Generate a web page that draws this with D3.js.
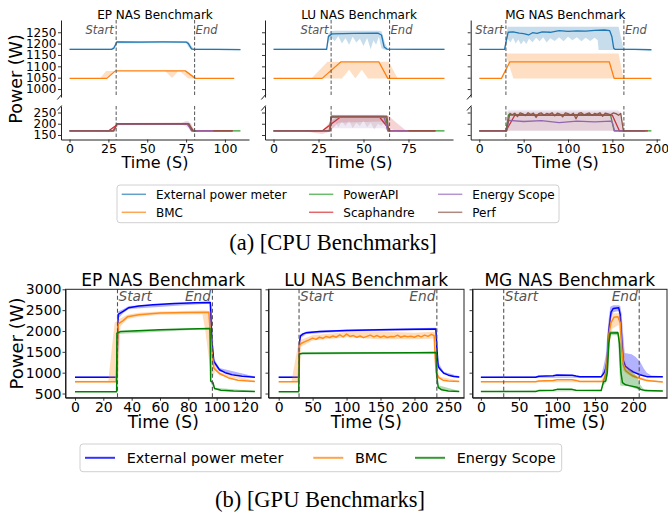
<!DOCTYPE html>
<html><head><meta charset="utf-8">
<script src="https://cdn.jsdelivr.net/npm/d3@7"></script>
<style>body{margin:0;background:#fff}svg{display:block}</style>
</head><body><script>
// ================= DATA : CPU =================
const cpuTitles = ["EP NAS Benchmark","LU NAS Benchmark","MG NAS Benchmark"];
const cpuXTicks = [[0,25,50,75,100],[0,25,50,75],[0,50,100,150,200]];
const cpuXMax = [110, 95, 194];
const cpuMarks = [[30,80.5],[32,64.5],[30,163]];
const cpuUpperTicks = [1000,1050,1100,1150,1200,1250];
const cpuLowerTicks = [150,200,250];

// EP (CPU)
const epExt = [[0,1175],[27,1175],[28.5,1180],[30.5,1208],[45,1207],[60,1208],[75,1207],[76.5,1200],[78.5,1177],[80,1175],[95,1175],[110,1174]];
const epExtBand = [[0,1172,1178],[27,1172,1178],[28.5,1174,1190],[30.5,1200,1212],[75,1203,1211],[76.5,1185,1210],[78.5,1172,1190],[80,1172,1178],[110,1171,1177]];
const epBmc = [[0,1047],[24,1047],[29.5,1080],[74.5,1080],[81,1047],[106,1047]];
const epBmcBand = [[19.5,1047,1047],[23.5,1047,1080],[24,1047,1080],[29.5,1080,1080],[61.5,1080,1080],[66,1049,1080],[70,1080,1080],[71,1078,1080],[76.5,1047,1071],[81,1047,1047]];
const epPowerApi = [[0,168],[28,168],[30.5,199],[77,199],[79.5,168],[110,168]];
const epScaph = [[0,168],[25,168],[31.5,200],[75.5,200],[80,168],[105,168]];
const epScaphBand = [[22,167,168],[25,163,170],[29,165,188],[31.5,193,203],[75.5,195,206],[78,172,203],[80,164,175],[83,166,169]];
const epEnergy = [[0,168],[28,168],[30.5,198],[76,199],[78.5,168],[93,168]];
const epEnergyBand = [[72,197,201],[74.5,190,212],[76.5,180,212],[78.5,166,190],[80,166,170]];
const epPerf = [[0,168],[28.5,168],[30.5,200],[76.5,200],[79,168],[81.5,168],[81.6,null],[92.4,null],[92.5,168],[105,168]];

// LU (CPU)
const luExt = [[0,1175],[29.5,1175],[30.5,1232],[32.5,1243],[45,1245],[58,1246],[60,1238],[61.5,1185],[63,1176],[80,1175],[95,1175]];
const luExtBand = [[0,1172,1178],[29.5,1172,1180],[30.5,1205,1245],[32,1228,1255],[34,1210,1257],[36,1232,1257],[38,1200,1257],[40,1225,1257],[42,1195,1257],[44,1230,1257],[46,1205,1257],[48,1222,1257],[50,1190,1257],[52,1225,1257],[54,1175,1257],[55.5,1215,1257],[57,1195,1257],[58.5,1230,1257],[60,1180,1255],[62,1172,1200],[63.5,1172,1178],[95,1172,1178]];
const luBmc = [[0,1047],[27,1047],[37.5,1120],[58.5,1120],[63.5,1047],[95,1047]];
const luBmcBand = [[21,1047,1047],[30,1047,1120],[38,1047,1120],[42,1085,1120],[45.5,1047,1120],[49,1085,1120],[52.5,1047,1120],[64,1047,1120],[69,1047,1047]];
const luPowerApi = [[0,168],[31,168],[32,230],[62.5,230],[63.5,168],[95,168]];
const luScaph = [[0,168],[27,168],[37,229],[59,229],[65,168],[90,168]];
const luScaphBand = [[18.5,167,168],[22,160,168],[27,155,170],[31,165,205],[36,205,234],[60,210,234],[64,180,234],[69,166,200],[74,167,168]];
const luEnergy = [[0,168],[31,168],[32,228],[61.5,228],[63.5,168],[75,168]];
const luEnergyBand = [[31,167,170],[32,180,240],[61.5,180,240],[63.5,167,170]];
const luPerf = [[0,168],[31.5,168],[32,234],[63,234],[64,168],[64.9,168],[65,null],[75,null],[75.1,168],[90,168]];
const luPerfBand = [[31.5,168,168],[32.5,200,236],[34,215,236],[36,185,236],[38,210,236],[40,190,236],[42,215,236],[44,180,236],[46,205,236],[48,190,236],[50,215,236],[52,185,236],[54,205,236],[56,175,236],[58,200,236],[60,190,236],[62,210,236],[63,168,236],[64,168,168]];

// MG (CPU)
const mgExt = [[0,1175],[28.5,1175],[30,1205],[32.5,1250],[38,1252],[45,1246],[50,1244],[55.5,1238],[60,1248],[65,1245],[71,1252],[80,1250],[90,1257],[100,1254],[110,1256],[120,1255],[130,1258],[141,1260],[147,1257],[149.5,1230],[151.5,1180],[153,1175],[175,1175],[194,1173]];
const mgExtBand = [[28.5,1172,1178],[30,1185,1225],[32,1222,1274],[35,1205,1274],[38,1226,1274],[41,1200,1274],[44,1218,1274],[47,1196,1274],[50,1214,1274],[53,1198,1274],[56,1222,1274],[60,1206,1274],[64,1226,1274],[68,1210,1274],[72,1228,1274],[76,1205,1274],[80,1224,1274],[85,1212,1274],[90,1228,1274],[95,1210,1274],[100,1230,1274],[105,1215,1274],[110,1228,1274],[115,1210,1274],[120,1226,1274],[125,1212,1274],[130,1226,1274],[133.5,1215,1274],[134.5,1172,1274],[157,1172,1274],[162.5,1172,1178],[194,1171,1176]];
const mgBmc = [[0,1047],[25,1047],[34.5,1120],[146.5,1120],[152,1047],[194,1047]];
const mgBmcBand = [[29.3,1157,1157],[38.4,1047,1157],[157,1047,1157],[162.5,1047,1047]];
const mgPowerApi = [[0,168],[30,168],[33,240],[80,238],[120,240],[148,238],[152,168],[194,168]];
const mgScaph = [[0,168],[30,168],[40,238],[150,238],[158,168],[190,168]];
const mgScaphBand = [[29,167,170],[32,170,250],[159,170,250],[163,167,170]];
const mgEnergy = [[0,168],[31,168],[33,215],[50,210],[70,214],[90,205],[110,212],[130,208],[148,212],[150,205],[152.5,168],[188,168]];
const mgEnergyBand = [[30,167,170],[32,170,262],[157,170,262],[161,167,170]];
const mgPerf = [[0,168],[30.5,168],[34.5,246],[37,240],[40,247],[43,232],[46,248],[49,244],[52,236],[55,249],[58,241],[61,247],[64,228],[67,245],[70,248],[73,238],[76,246],[79,242],[82,249],[85,235],[88,247],[91,243],[94,231],[97,248],[100,245],[103,239],[106,247],[109,222],[112,246],[115,249],[118,240],[121,244],[124,248],[127,237],[130,246],[133,242],[136,249],[139,233],[142,247],[145,244],[148,240],[151,248],[154,245],[157,238],[159.4,246],[162.4,168],[187,168]];
const mgPerfBand = [[30,167,170],[32,168,256],[160,168,256],[163,167,170]];

const cpuLegend = ["External power meter","BMC","PowerAPI","Scaphandre","Energy Scope","Perf"];
const cpuColors = ["#1f77b4","#ff7f0e","#2ca02c","#d62728","#9467bd","#8c564b"];

// ================= DATA : GPU =================
const gpuTitles = ["EP NAS Benchmark","LU NAS Benchmark","MG NAS Benchmark"];
const gpuXTicks = [[0,20,40,60,80,100,120],[0,50,100,150,200,250],[0,50,100,150,200]];
const gpuXDomains = [[-6.7,131.3],[-15,273],[-11,244.5]];
const gpuYDomain = [400,3000];
const gpuMarks = [[30,97],[30,233],[30,208]];
const gpuYTicks = [500,1000,1500,2000,2500,3000];

const gEpExt = [[0,890],[29.5,890],[30.5,2400],[34,2470],[38,2560],[45,2600],[55,2630],[70,2660],[85,2675],[95.5,2685],[96.5,1800],[98,1270],[102,1070],[106,1000],[111,950],[118,915],[127,893]];
const gEpExtBand = [[0,870,910],[29.5,870,910],[30.5,2300,2470],[34,2430,2520],[38,2530,2600],[95.5,2660,2710],[96.5,1500,2600],[98,1200,1340],[102,1030,1110],[127,875,910]];
const gEpBmc = [[0,785],[29,785],[30.5,2170],[34,2250],[37,2340],[45,2390],[60,2430],[80,2445],[94.5,2450],[96,1700],[98,1110],[102,980],[108,880],[115,820],[127,790]];
const gEpBmcBand = [[0,765,805],[23.5,765,805],[28,770,2200],[30.5,800,2260],[32,2100,2300],[37,2290,2390],[45,2340,2440],[60,2390,2470],[90,2400,2490],[92,2000,2490],[96,950,2470],[97.5,900,1400],[99,1040,1160],[102,940,1010],[127,775,805]];
const gEpEs = [[0,545],[29.4,545],[29.6,1950],[32,1985],[40,2000],[60,2030],[80,2050],[95.3,2060],[95.8,800],[97.3,770],[98.5,620],[103,580],[112,560],[127,548]];
const gEpEsBand = [[0,535,555],[29.4,535,555],[29.6,1930,1990],[95.3,2045,2075],[95.8,760,820],[98.5,600,640],[127,538,558]];

const gLuExt = [[0,890],[29.5,890],[30.5,1700],[32,1880],[36,1930],[41,1960],[60,1985],[100,2010],[150,2030],[200,2040],[231.5,2050],[233,1600],[235,1150],[238,1080],[243,990],[250,940],[258,910],[266,895]];
const gLuExtBand = [[0,870,910],[29.5,870,910],[30.5,1550,1800],[32,1830,1930],[41,1930,1990],[100,1985,2035],[231.5,2025,2075],[233,1400,2000],[235,1100,1250],[243,960,1020],[266,875,915]];
const gLuBmc = [[0,785],[29,785],[30.5,1650],[33,1700],[38,1740],[44,1780],[50,1830],[55,1800],[60,1850],[65,1825],[70,1870],[75,1845],[80,1880],[85,1850],[90,1905],[95,1860],[100,1925],[105,1870],[110,1890],[115,1850],[120,1880],[125,1840],[130,1870],[135,1900],[140,1860],[145,1890],[150,1850],[155,1880],[160,1845],[165,1870],[170,1860],[175,1900],[180,1850],[185,1880],[190,1860],[195,1875],[200,1850],[205,1890],[210,1860],[215,1900],[220,1870],[225,1920],[229,1890],[230.5,1400],[232,1000],[236,880],[242,820],[250,800],[266,790]];
const gLuBmcBand = [[0,770,800],[19,770,800],[29,780,1720],[30.5,800,1760],[33,1620,1790],[50,1770,1900],[90,1830,1960],[100,1850,1990],[150,1800,1990],[200,1800,1960],[229,1820,1980],[230.5,1000,1960],[232,850,1400],[236,850,910],[266,775,805]];
const gLuEs = [[0,545],[29.5,545],[30.5,1450],[35,1465],[100,1475],[200,1480],[232,1485],[233,900],[235,650],[240,590],[250,560],[266,550]];
const gLuEsBand = [[0,535,555],[29.5,535,555],[30.5,1430,1470],[232,1465,1505],[233,800,1100],[235,620,700],[266,540,560]];

const gMgExt = [[0,890],[72,890],[76,915],[95,925],[100,945],[120,940],[125,920],[130,905],[158,900],[162,1000],[164,1100],[166,1300],[168,2000],[171,2450],[174,2540],[181,2560],[183,2400],[185,1800],[187,1300],[190,1150],[195,1080],[200,1020],[209,950],[218,905],[239,900]];
const gMgExtBand = [[0,875,905],[158,880,915],[161,950,1150],[164,1050,1400],[166,1150,1900],[168,1800,2300],[170,2300,2580],[174,2450,2620],[181,2480,2620],[183,2100,2600],[185,1500,2400],[187,1200,1900],[189,1100,1470],[198,1000,1440],[203,980,1380],[209,930,1270],[214,910,1100],[218,895,1000],[224,890,930],[239,885,915]];
const gMgBmc = [[0,785],[72,785],[76,800],[95,815],[100,830],[120,830],[125,815],[130,790],[160,790],[162,850],[164,1000],[166,1300],[168,1900],[171,2200],[175,2330],[180,2340],[183,2200],[185,1600],[187,1200],[190,1050],[195,980],[200,920],[209,860],[218,810],[239,775]];
const gMgBmcBand = [[0,770,800],[158,770,810],[162,820,1000],[165,900,1400],[168,1500,2200],[172,2050,2420],[181,2150,2430],[184,1400,2350],[187,1050,1600],[191,980,1200],[200,880,1000],[210,830,900],[220,790,830],[239,765,790]];
const gMgEs = [[0,548],[72,548],[76,570],[95,580],[100,600],[120,600],[125,578],[158,570],[161,780],[164,800],[166,1000],[168,1700],[170,1950],[180,1960],[182,1700],[184,1000],[186,760],[190,710],[195,690],[205,650],[210,600],[216,570],[239,560]];
const gMgEsBand = [[0,540,556],[158,560,590],[161,700,850],[164,750,1000],[167,950,1900],[170,1900,2000],[180,1900,2000],[183,700,1800],[186,680,1250],[190,690,1080],[195,670,1050],[200,640,1000],[205,600,900],[209,580,720],[213,560,620],[220,550,580],[239,550,570]];

const gpuLegend = ["External power meter","BMC","Energy Scope"];
const gpuColors = ["blue","#ff8c1a","green"];

// ================= DRAWING =================
const FONT = "DejaVu Sans, sans-serif";
const svg = d3.select("body").append("svg").attr("width",668).attr("height",516)
  .attr("font-family",FONT);
const defs = svg.append("defs");
let cid = 0;
function clipRect(x0,y0,x1,y1){
  const id = "clip"+(cid++);
  defs.append("clipPath").attr("id",id).append("rect")
    .attr("x",x0).attr("y",y0).attr("width",x1-x0).attr("height",y1-y0);
  return "url(#"+id+")";
}
function drawSeries(g,x,y,list,lw,bo){
  const area = d3.area().x(d=>x(d[0])).y0(d=>y(d[1])).y1(d=>y(d[2]));
  const line = d3.line().defined(d=>d[1]!=null).x(d=>x(d[0])).y(d=>y(d[1]));
  list.forEach(s=>{
    if(s.band) g.append("path").datum(s.band).attr("d",area)
      .attr("fill",s.c).attr("fill-opacity",s.bo!=null?s.bo:bo).attr("stroke","none");
    g.append("path").datum(s.line).attr("d",line).attr("fill","none")
      .attr("stroke",s.c).attr("stroke-width",lw).attr("stroke-linejoin","round");
  });
}
function styleAxis(g,fs){
  g.attr("font-family",FONT).attr("font-size",fs);
  g.select(".domain").attr("stroke","#222").attr("stroke-width",1);
  g.selectAll(".tick line").attr("stroke","#222").attr("stroke-width",0.9);
  g.selectAll(".tick text").attr("fill","#000");
}

// ---- CPU panels ----
const cpuXRanges = [[61,249],[265,453],[470.7,660]];
const cpuSeries = [
  {up:[{line:epExt,band:epExtBand,c:cpuColors[0]},{line:epBmc,band:epBmcBand,c:cpuColors[1]}],
   lo:[{line:epPowerApi,c:cpuColors[2]},{line:epScaph,band:epScaphBand,c:cpuColors[3]},{line:epEnergy,band:epEnergyBand,c:cpuColors[4]},{line:epPerf,c:cpuColors[5]}]},
  {up:[{line:luExt,band:luExtBand,c:cpuColors[0]},{line:luBmc,band:luBmcBand,c:cpuColors[1]}],
   lo:[{line:luPowerApi,c:cpuColors[2]},{line:luScaph,band:luScaphBand,c:cpuColors[3]},{line:luEnergy,band:luEnergyBand,c:cpuColors[4],bo:0.15},{line:luPerf,band:luPerfBand,c:cpuColors[5],bo:0.15}]},
  {up:[{line:mgExt,band:mgExtBand,c:cpuColors[0]},{line:mgBmc,band:mgBmcBand,c:cpuColors[1]}],
   lo:[{line:mgPowerApi,c:cpuColors[2]},{line:mgScaph,band:mgScaphBand,c:cpuColors[3],bo:0.08},{line:mgEnergy,band:mgEnergyBand,c:cpuColors[4],bo:0.12},{line:mgPerf,band:mgPerfBand,c:cpuColors[5],bo:0.1}]}
];
const UP=[20,97], LO=[106,139.5];
cpuTitles.forEach((title,i)=>{
  const xr = cpuXRanges[i];
  const x = d3.scaleLinear().domain([-0.05*cpuXMax[i],1.05*cpuXMax[i]]).range(xr);
  const yU = d3.scaleLinear().domain([965,1304]).range([UP[1],UP[0]]);
  const yL = d3.scaleLinear().domain([130,279]).range([LO[1],LO[0]]);
  const gU = svg.append("g").attr("clip-path",clipRect(xr[0],UP[0],xr[1],UP[1]));
  drawSeries(gU,x,yU,cpuSeries[i].up,1.3,0.25);
  const gL = svg.append("g").attr("clip-path",clipRect(xr[0],LO[0],xr[1],LO[1]));
  drawSeries(gL,x,yL,cpuSeries[i].lo,1.3,0.2);
  // start / end
  cpuMarks[i].forEach(t=>{
    [[UP[0],UP[1]],[LO[0],LO[1]]].forEach(r=>{
      svg.append("line").attr("x1",x(t)).attr("x2",x(t)).attr("y1",r[0]).attr("y2",r[1])
        .attr("stroke","#555").attr("stroke-width",1).attr("stroke-dasharray","3.5,2");
    });
  });
  svg.append("text").attr("x",x(cpuMarks[i][0])-2.5).attr("y",33.5).attr("text-anchor","end")
    .attr("font-style","italic").attr("font-size",11.5).attr("fill","#555").text("Start");
  svg.append("text").attr("x",x(cpuMarks[i][1])+1).attr("y",33.5).attr("text-anchor","start")
    .attr("font-style","italic").attr("font-size",11.5).attr("fill","#555").text("End");
  // axes
  const fmt = i===0 ? d3.format("d") : ()=>"";
  styleAxis(svg.append("g").attr("transform",`translate(${xr[0]},0)`)
    .call(d3.axisLeft(yU).tickValues(cpuUpperTicks).tickSize(3).tickPadding(1.5).tickSizeOuter(0).tickFormat(fmt)),12);
  styleAxis(svg.append("g").attr("transform",`translate(${xr[0]},0)`)
    .call(d3.axisLeft(yL).tickValues(cpuLowerTicks).tickSize(3).tickPadding(1.5).tickSizeOuter(0).tickFormat(fmt)),12);
  styleAxis(svg.append("g").attr("transform",`translate(0,${LO[1]})`)
    .call(d3.axisBottom(x).tickValues(cpuXTicks[i]).tickSize(3).tickPadding(1.5).tickSizeOuter(0)),12.5);
  // break marks
  [[UP[1]],[LO[0]+2]].forEach(b=>{
    svg.append("line").attr("x1",xr[0]-3.7).attr("y1",b[0]+2.5).attr("x2",xr[0]+0.7).attr("y2",b[0]-2.5)
      .attr("stroke","#222").attr("stroke-width",1);
  });
  // labels
  svg.append("text").attr("x",(xr[0]+xr[1])/2).attr("y",18.5).attr("text-anchor","middle")
    .attr("font-size",12).attr("fill","#000").text(title);
  svg.append("text").attr("x",(xr[0]+xr[1])/2).attr("y",168).attr("text-anchor","middle")
    .attr("font-size",16).attr("fill","#000").text("Time (S)");
});
svg.append("text").attr("transform","translate(15.5,79) rotate(-90)").attr("text-anchor","middle")
  .attr("dy","0.36em").attr("font-size",17.5).attr("fill","#000").text("Power (W)");

// CPU legend
svg.append("rect").attr("x",117).attr("y",185).attr("width",442).attr("height",37.7).attr("rx",3)
  .attr("fill","#fff").attr("stroke","#d0d0d0").attr("stroke-width",1);
const cpuLegLineX = [121.7,309,438], cpuLegTextX = [156,343.3,472.3], cpuLegRowY = [194.3,212.3];
cpuLegend.forEach((name,k)=>{
  const col = Math.floor(k/2), row = k%2;
  svg.append("line").attr("x1",cpuLegLineX[col]).attr("x2",cpuLegLineX[col]+24.3)
    .attr("y1",cpuLegRowY[row]).attr("y2",cpuLegRowY[row]).attr("stroke",cpuColors[k])
    .attr("stroke-opacity",0.7).attr("stroke-width",1.5);
  svg.append("text").attr("x",cpuLegTextX[col]).attr("y",cpuLegRowY[row]).attr("dy","0.36em")
    .attr("font-size",12).attr("fill","#000").text(name);
});
svg.append("text").attr("x",333).attr("y",249.5).attr("text-anchor","middle")
  .attr("font-family","Liberation Serif, Times New Roman, serif").attr("font-size",22.5).attr("fill","#000")
  .text("(a) [CPU Benchmarks]");

// ---- GPU panels ----
const gpuXRanges = [[65.5,261],[268.5,464],[472.5,667]];
const GY = [289.3,397.7];
const gpuSeries = [
  [{line:gEpExt,band:gEpExtBand,c:gpuColors[0]},{line:gEpBmc,band:gEpBmcBand,c:gpuColors[1]},{line:gEpEs,band:gEpEsBand,c:gpuColors[2]}],
  [{line:gLuExt,band:gLuExtBand,c:gpuColors[0]},{line:gLuBmc,band:gLuBmcBand,c:gpuColors[1]},{line:gLuEs,band:gLuEsBand,c:gpuColors[2]}],
  [{line:gMgExt,band:gMgExtBand,c:gpuColors[0]},{line:gMgBmc,band:gMgBmcBand,c:gpuColors[1]},{line:gMgEs,band:gMgEsBand,c:gpuColors[2]}]
];
gpuTitles.forEach((title,i)=>{
  const xr = gpuXRanges[i];
  const x = d3.scaleLinear().domain(gpuXDomains[i]).range(xr);
  const y = d3.scaleLinear().domain(gpuYDomain).range([GY[1],GY[0]]);
  const g = svg.append("g").attr("clip-path",clipRect(xr[0],GY[0],xr[1],GY[1]));
  drawSeries(g,x,y,gpuSeries[i],1.5,0.3);
  gpuMarks[i].forEach(t=>{
    svg.append("line").attr("x1",x(t)).attr("x2",x(t)).attr("y1",GY[0]).attr("y2",GY[1])
      .attr("stroke","#555").attr("stroke-width",1.1).attr("stroke-dasharray","4,2.5");
  });
  svg.append("text").attr("x",x(gpuMarks[i][0])+1).attr("y",301).attr("text-anchor","start")
    .attr("font-style","italic").attr("font-size",13.7).attr("fill","#555").text("Start");
  svg.append("text").attr("x",x(gpuMarks[i][1])-1.5).attr("y",301).attr("text-anchor","end")
    .attr("font-style","italic").attr("font-size",13.7).attr("fill","#555").text("End");
  const fmt = i===0 ? d3.format("d") : ()=>"";
  styleAxis(svg.append("g").attr("transform",`translate(${xr[0]},0)`)
    .call(d3.axisLeft(y).tickValues(gpuYTicks).tickSize(3).tickPadding(1).tickSizeOuter(0).tickFormat(fmt)),14);
  styleAxis(svg.append("g").attr("transform",`translate(0,${GY[1]})`)
    .call(d3.axisBottom(x).tickValues(gpuXTicks[i]).tickSize(3).tickPadding(1.5).tickSizeOuter(0)),14);
  svg.append("rect").attr("x",xr[0]).attr("y",GY[0]).attr("width",xr[1]-xr[0]).attr("height",GY[1]-GY[0])
    .attr("fill","none").attr("stroke","#222").attr("stroke-width",1);
  svg.append("text").attr("x",(xr[0]+xr[1])/2).attr("y",286).attr("text-anchor","middle")
    .attr("font-size",17).attr("fill","#000").text(title);
  svg.append("text").attr("x",(xr[0]+xr[1])/2).attr("y",428).attr("text-anchor","middle")
    .attr("font-size",17).attr("fill","#000").text("Time (S)");
});
svg.append("text").attr("transform","translate(16.5,343.5) rotate(-90)").attr("text-anchor","middle")
  .attr("dy","0.36em").attr("font-size",18).attr("fill","#000").text("Power (W)");

// GPU legend
svg.append("rect").attr("x",80).attr("y",444).attr("width",481.7).attr("height",27.7).attr("rx",3)
  .attr("fill","#fff").attr("stroke","#d0d0d0").attr("stroke-width",1);
const gpuLegLineX = [85,313.3,415], gpuLegTextX = [126.7,355,456.7];
gpuLegend.forEach((name,k)=>{
  svg.append("line").attr("x1",gpuLegLineX[k]).attr("x2",gpuLegLineX[k]+30)
    .attr("y1",457.8).attr("y2",457.8).attr("stroke",gpuColors[k]).attr("stroke-opacity",0.8).attr("stroke-width",2);
  svg.append("text").attr("x",gpuLegTextX[k]).attr("y",457.8).attr("dy","0.36em")
    .attr("font-size",14.4).attr("fill","#000").text(name);
});
svg.append("text").attr("x",320).attr("y",507).attr("text-anchor","middle")
  .attr("font-family","Liberation Serif, Times New Roman, serif").attr("font-size",22.5).attr("fill","#000")
  .text("(b) [GPU Benchmarks]");
</script></body></html>
